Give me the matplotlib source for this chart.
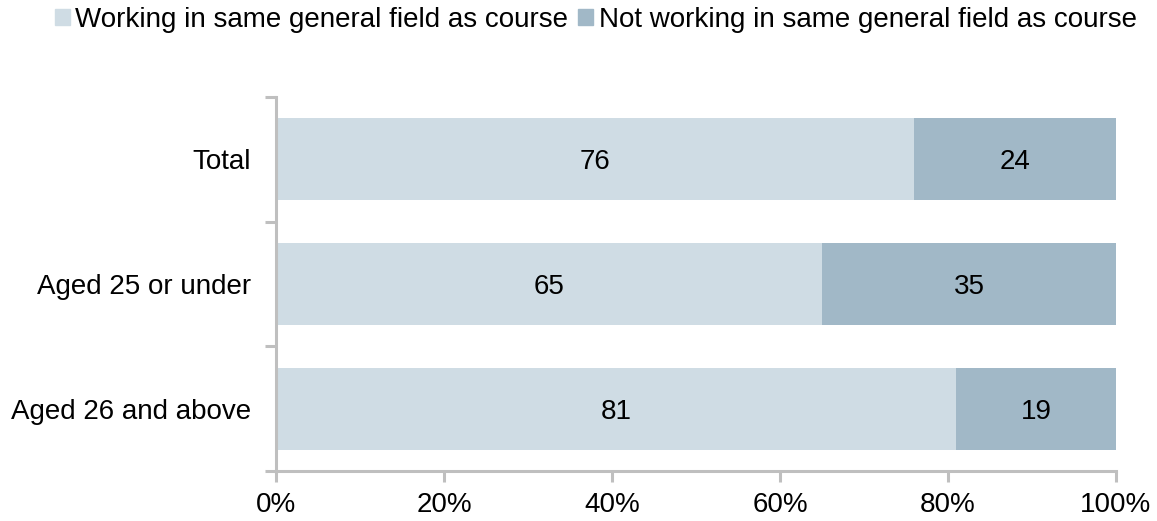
import numpy as np
import matplotlib.pyplot as plt
from matplotlib.patches import Patch

plt.rcParams['font.family'] = ['Liberation Sans', 'DejaVu Sans']

groups = ['Total', 'Aged 25 or under', 'Aged 26 and above']
same_field = [76, 65, 81]
other_field = [24, 35, 19]
series_names = ['Working in same general field as course',
                'Not working in same general field as course']
colors = ['#cfdce4', '#a1b8c7']
axis_grey = '#bfbfbf'

fig = plt.figure(figsize=(11.57, 5.21), dpi=100)
ax = fig.add_axes([276 / 1157, 1 - 471 / 521, 840 / 1157, 374 / 521])

ypos = np.arange(len(groups))[::-1]
h = 0.66
ax.barh(ypos, same_field, height=h, color=colors[0])
ax.barh(ypos, other_field, left=same_field, height=h, color=colors[1])

for y, a, b in zip(ypos, same_field, other_field):
    ax.text(a / 2, y, str(a), ha='center', va='center_baseline', fontsize=20)
    ax.text(a + b / 2, y, str(b), ha='center', va='center_baseline', fontsize=20)

ax.set_xlim(0, 100)
ax.set_ylim(-0.5, len(groups) - 0.5)
ax.set_xticks(np.arange(0, 101, 20))
ax.set_xticklabels([f'{v}%' for v in range(0, 101, 20)])
ax.set_yticks(ypos)
ax.set_yticklabels(groups)
ax.set_yticks(np.arange(-0.5, len(groups), 1), minor=True)

for s in ['top', 'right']:
    ax.spines[s].set_visible(False)
for s in ['left', 'bottom']:
    ax.spines[s].set_color(axis_grey)
    ax.spines[s].set_linewidth(2.2)

ax.tick_params(axis='x', length=8, width=2.2, color=axis_grey, labelsize=20, pad=7)
ax.tick_params(axis='y', which='major', length=0, labelsize=20, pad=18)
ax.tick_params(axis='y', which='minor', length=8, width=2.2, color=axis_grey)

handles = [Patch(color=c, label=n) for c, n in zip(colors, series_names)]
fig.legend(handles=handles, loc='upper center', bbox_to_anchor=(0.515, 1.035),
           ncol=2, frameon=False, fontsize=20, handlelength=0.55, handleheight=0.55,
           handletextpad=0.2, columnspacing=0.35)

fig.savefig('out.png', dpi=100)
